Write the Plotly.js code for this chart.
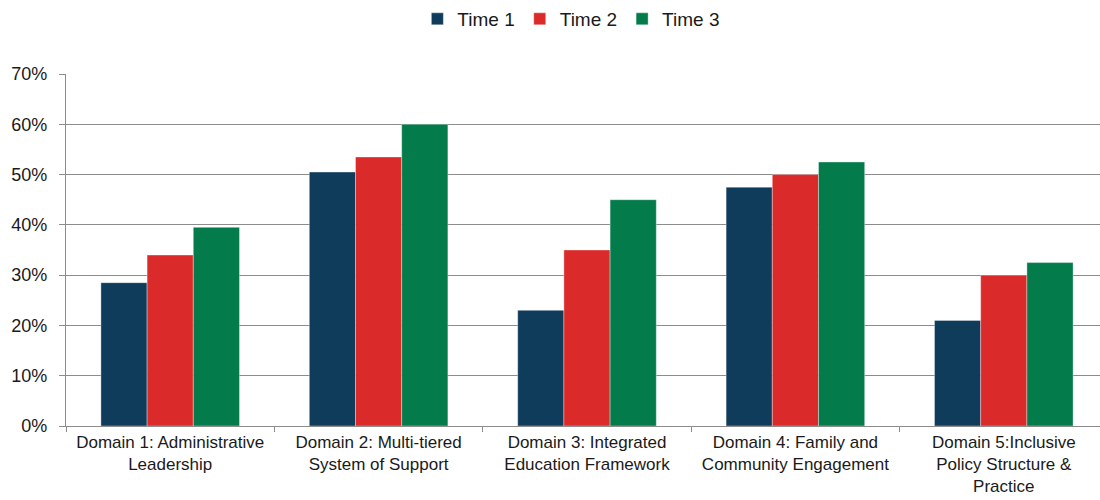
<!DOCTYPE html>
<html>
<head>
<meta charset="utf-8">
<script src="https://cdn.plot.ly/plotly-3.0.1.min.js"></script>
<style>
html,body{margin:0;padding:0;overflow:hidden;background:#fff;}
#chart{width:1110px;height:500px;}
</style>
</head>
<body>
<div id="chart"></div>
<script>
const categories = [
  "Domain 1: Administrative<br>Leadership",
  "Domain 2: Multi-tiered<br>System of Support",
  "Domain 3: Integrated<br>Education Framework",
  "Domain 4: Family and<br>Community Engagement",
  "Domain 5:Inclusive<br>Policy Structure &<br>Practice"
];
const seriesNames = ["Time 1", "Time 2", "Time 3"];
const time1 = [0.285, 0.505, 0.23, 0.475, 0.21];
const time2 = [0.34, 0.535, 0.35, 0.50, 0.30];
const time3 = [0.395, 0.60, 0.45, 0.525, 0.325];
const yTicks = [0, 0.1, 0.2, 0.3, 0.4, 0.5, 0.6, 0.7];
const yTickLabels = ["0%", "10%", "20%", "30%", "40%", "50%", "60%", "70%"];
const colors = ["#0f3c5b", "#da2a29", "#047b4a"];

const values = [time1, time2, time3];
const traces = values.map((v, i) => ({
  type: "bar",
  name: seriesNames[i],
  x: categories,
  y: v,
  marker: {color: colors[i], line: {color: "rgba(255,255,255,0.45)", width: 0.8}},
  hoverinfo: "y+name"
}));

const layout = {
  width: 1110,
  height: 500,
  margin: {l: 66, r: 2, t: 74, b: 74},
  paper_bgcolor: "#fff",
  plot_bgcolor: "#fff",
  font: {family: "Liberation Sans, Arial, sans-serif", color: "#1a1a1a", size: 17},
  barmode: "group",
  bargap: 0.335,
  bargroupgap: 0,
  showlegend: true,
  legend: {
    orientation: "h",
    x: 0.485, xanchor: "center",
    y: 1, yanchor: "top",
    yref: "container",
    font: {size: 19, color: "#1a1a1a"},
    itemwidth: 30,
    traceorder: "normal"
  },
  xaxis: {
    showline: true,
    linecolor: "#8c8c8c",
    linewidth: 1.3,
    ticks: "outside",
    tickson: "boundaries",
    ticklen: 5,
    tickcolor: "#8c8c8c",
    tickwidth: 1.3,
    showgrid: false,
    tickfont: {size: 17, color: "#1a1a1a"},
    fixedrange: true
  },
  yaxis: {
    range: [0, 0.7],
    tickvals: yTicks,
    ticktext: yTickLabels,
    showline: true,
    linecolor: "#8c8c8c",
    linewidth: 1.3,
    ticks: "outside",
    ticklen: 6,
    tickcolor: "#8c8c8c",
    tickwidth: 1.3,
    ticklabelstandoff: 8,
    showgrid: true,
    gridcolor: "#8c8c8c",
    gridwidth: 1.3,
    zeroline: false,
    tickfont: {size: 18, color: "#1a1a1a"},
    fixedrange: true
  }
};

Plotly.newPlot("chart", traces, layout, {displayModeBar: false, responsive: false});
</script>
</body>
</html>
